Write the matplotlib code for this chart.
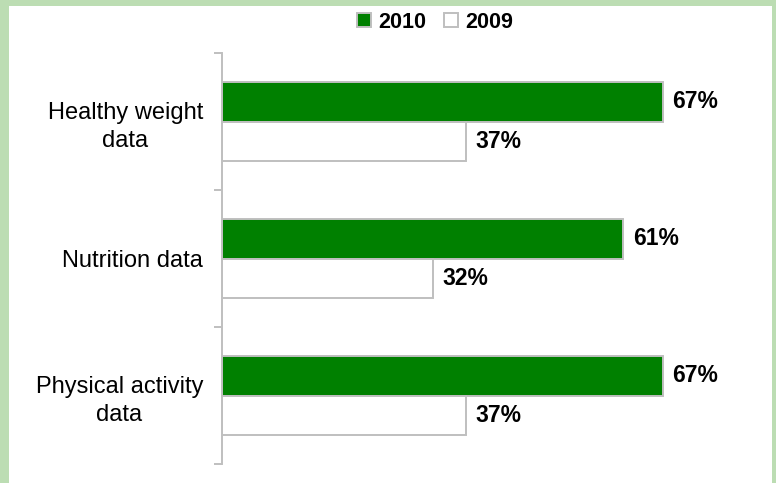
"""
    Grouped horizontal bars: share of sites reporting each data type, 2010 vs 2009.
"""

import numpy as np
import matplotlib.pyplot as plt
from matplotlib.patches import Rectangle, Patch

categories = ["Healthy weight\ndata", "Nutrition data", "Physical activity\ndata"]
pct_2010 = [67, 61, 67]
pct_2009 = [37, 32, 37]
series_names = ["2010", "2009"]

GREEN = "#008000"
EDGE = "#BFBFBF"
FRAME = "#BCDDB3"


def main() -> None:
    plt.rcParams['font.family'] = ['Liberation Sans', 'DejaVu Sans']

    fig = plt.figure(figsize=(7.76, 4.83), dpi=100, facecolor=FRAME)
    # white panel inside the green frame (no frame along the bottom)
    fig.add_artist(Rectangle((9 / 776, 0), 763 / 776, 477 / 483,
                             transform=fig.transFigure, facecolor="white",
                             edgecolor="none", zorder=0))

    ax = fig.add_axes([222.5 / 776, 19 / 483, 525.5 / 776, 411 / 483])
    ax.set_facecolor("none")

    y = np.arange(len(categories))
    h = 0.285
    ax.barh(y - h / 2, pct_2010, height=h, color=GREEN, edgecolor=EDGE, linewidth=1.4)
    ax.barh(y + h / 2, pct_2009, height=h, color="white", edgecolor=EDGE, linewidth=1.4)

    for yi, v in zip(y - h / 2, pct_2010):
        ax.text(v + 1.5, yi, f"{v}%", va="center", ha="left",
                fontsize=16.5, fontweight="bold")
    for yi, v in zip(y + h / 2, pct_2009):
        ax.text(v + 1.5, yi, f"{v}%", va="center", ha="left",
                fontsize=16.5, fontweight="bold")

    ax.set_xlim(0, 80)
    ax.set_ylim(2.5, -0.5)
    ax.set_xticks([])

    # category labels at group centres, tick marks on the boundaries
    ax.set_yticks(y)
    ax.set_yticklabels(categories, fontsize=17, multialignment="center", linespacing=1.35)
    ax.tick_params(axis="y", which="major", length=0, pad=14)
    ax.set_yticks([-0.5, 0.5, 1.5, 2.5], minor=True)
    ax.tick_params(axis="y", which="minor", length=6, width=1.4, color=EDGE)

    for side in ["top", "right", "bottom"]:
        ax.spines[side].set_visible(False)
    ax.spines["left"].set_color(EDGE)
    ax.spines["left"].set_linewidth(1.4)

    handles = [Patch(facecolor=GREEN, edgecolor=EDGE, linewidth=1.4),
               Patch(facecolor="white", edgecolor=EDGE, linewidth=1.4)]
    fig.legend(handles, series_names, loc="center", bbox_to_anchor=(435 / 776, 1 - 22 / 483),
               ncol=2, frameon=False, prop={"size": 15.5, "weight": "bold"},
               handlelength=0.65, handleheight=0.65, handletextpad=0.35, columnspacing=0.8)

    fig.savefig("out.png", dpi=100, facecolor=fig.get_facecolor())


if __name__ == "__main__":
    main()
